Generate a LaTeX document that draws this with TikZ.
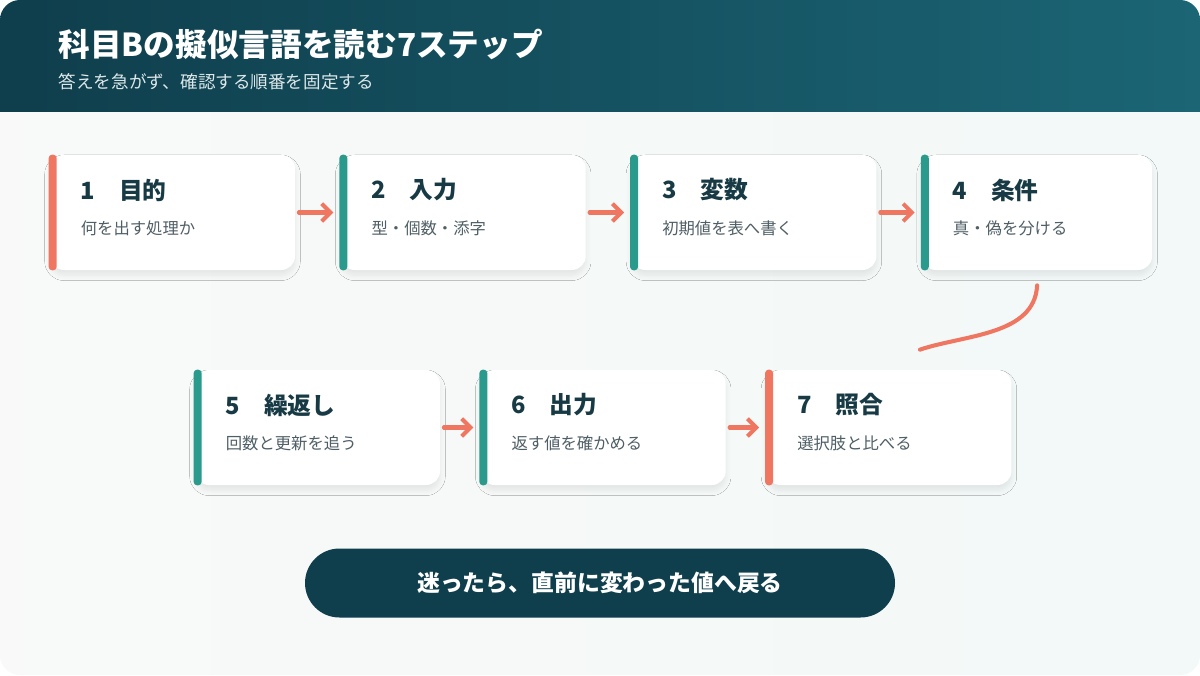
\documentclass[tikz,border=0pt]{standalone}
\usepackage{fontspec}
\setmainfont{Noto Sans CJK JP}[BoldFont={Noto Sans CJK JP Black}]
\usetikzlibrary{positioning,shadows.blur,arrows.meta}
\definecolor{navy}{HTML}{0F3E4C}
\definecolor{teal}{HTML}{1B6575}
\definecolor{coral}{HTML}{EF7761}
\definecolor{mint}{HTML}{2A9A8C}
\definecolor{ink}{HTML}{173A45}
\definecolor{grayt}{HTML}{4F5F66}

\tikzstyle{card} = [rectangle, rounded corners=0.28cm, minimum width=4.9cm, minimum height=2.3cm, fill=white, blur shadow={shadow blur steps=6, shadow blur radius=3pt, shadow xshift=0pt, shadow yshift=-3pt, shadow opacity=8}]
\tikzstyle{arrow} = [coral, line width=2.3pt, line cap=round, -{Straight Barb[length=5pt,width=10pt]}, shorten <=2pt, shorten >=4pt]

% card: name, placement, bar colour, title, subtitle
\newcommand{\stepcard}[5]{%
  \node (#1) [card, #2] {};
  \fill[#3, rounded corners=2pt] ([xshift=-0.02cm]#1.north west) rectangle ([xshift=0.14cm]#1.south west);
  \node[anchor=west, font=\bfseries\fontsize{13.5}{15}\selectfont, text=ink] at ([xshift=0.5cm,yshift=0.45cm]#1.west) {#4};
  \node[anchor=west, font=\fontsize{9.3}{11}\selectfont, text=grayt] at ([xshift=0.5cm,yshift=-0.32cm]#1.west) {#5};
}

\begin{document}
\begin{tikzpicture}[node distance=0.9cm]
        % Frame
        \useasboundingbox (0,0) rectangle (24,13.5);
        \begin{scope}
            \clip[rounded corners=0.4cm] (0,0) rectangle (24,13.5);
            \shade[left color=white!95!gray, right color=mint!6] (0,0) rectangle (24,13.5);
            \shade[left color=navy, right color=teal] (0,11.26) rectangle (24,13.5);
        \end{scope}
        \node[anchor=west, text=white, font=\bfseries\fontsize{18}{20}\selectfont] at (1.05,12.62) {科目Bの擬似言語を読む7ステップ};
        \node[anchor=west, text=white!85!teal, font=\fontsize{10}{12}\selectfont] at (1.05,11.86) {答えを急がず、確認する順番を固定する};

        % Cards
        \stepcard{s1}{at={(3.45,9.25)}}{coral}{1\quad 目的}{何を出す処理か}
        \stepcard{s2}{right=of s1}{mint}{2\quad 入力}{型・個数・添字}
        \stepcard{s3}{right=of s2}{mint}{3\quad 変数}{初期値を表へ書く}
        \node (s4) [card, right=0.9cm of s3, minimum width=4.6cm] {};
        \fill[mint, rounded corners=2pt] ([xshift=-0.02cm]s4.north west) rectangle ([xshift=0.14cm]s4.south west);
        \node[anchor=west, font=\bfseries\fontsize{13.5}{15}\selectfont, text=ink] at ([xshift=0.5cm,yshift=0.45cm]s4.west) {4\quad 条件};
        \node[anchor=west, font=\fontsize{9.3}{11}\selectfont, text=grayt] at ([xshift=0.5cm,yshift=-0.32cm]s4.west) {真・偽を分ける};
        \stepcard{s5}{at={(6.35,4.95)}}{mint}{5\quad 繰返し}{回数と更新を追う}
        \stepcard{s6}{right=0.8cm of s5}{mint}{6\quad 出力}{返す値を確かめる}
        \stepcard{s7}{right=0.8cm of s6}{coral}{7\quad 照合}{選択肢と比べる}

        % Arrows
        \draw [arrow] (s1) -- (s2);
        \draw [arrow] (s2) -- (s3);
        \draw [arrow] (s3) -- (s4);
        \draw [arrow] (s5) -- (s6);
        \draw [arrow] (s6) -- (s7);
        \coordinate (bend) at ([xshift=0.62cm,yshift=0.4cm]s7.north);
        \draw [coral, line width=2.3pt, line cap=round] ([yshift=-0.3cm]s4.south) .. controls +(-0.05,-1.0) and +(0.9,0.3) .. (bend);

        % Hint
        \node (hint) [rectangle, rounded corners=0.69cm, fill=navy, minimum width=11.8cm, minimum height=1.38cm, text=white, font=\bfseries\fontsize{13}{15}\selectfont] at (12,1.84) {迷ったら、直前に変わった値へ戻る};
    \end{tikzpicture}
\end{document}
